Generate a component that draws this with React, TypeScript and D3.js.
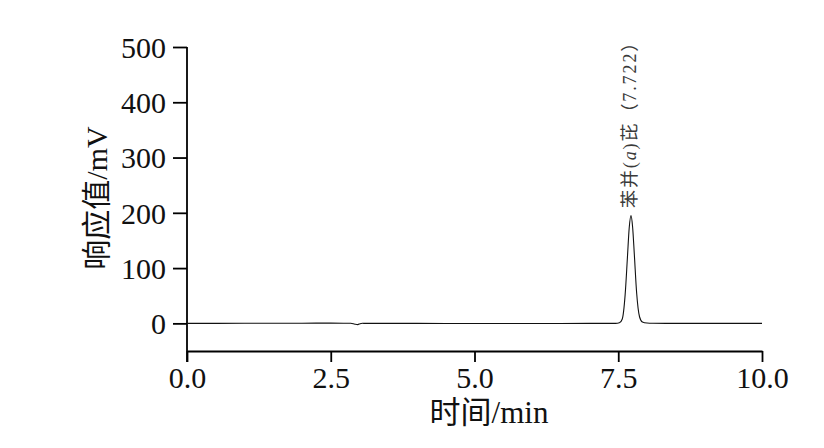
import React, { useEffect, useRef } from "react";
import * as d3 from "d3";

const times = [0, 1.0, 2.0, 2.5, 2.85, 2.92, 2.97, 3.01, 3.05, 3.1, 4.0, 5.0, 6.0, 7.0, 7.45, 7.52, 7.57, 7.62, 7.66, 7.69, 7.722, 7.75, 7.78, 7.82, 7.87, 7.92, 8.0, 8.1, 8.5, 9.0, 10.0];
const response = [0, 0.1, 0.3, 0.4, 0.2, -1.5, -2.2, -0.6, 0.1, 0, -0.1, -0.2, -0.2, -0.1, 0, 1, 8, 52, 120, 172, 195, 174, 124, 55, 12, 2.5, 0.6, 0.2, 0, 0, 0];
const xTicks = [0, 2.5, 5, 7.5, 10];
const yTicks = [0, 100, 200, 300, 400, 500];
const peakTime = 7.722;
const peakLabel = "7.722";

const FONT = "'Liberation Serif', 'Times New Roman', 'Noto Sans CJK SC', serif";

export default function App() {
  const ref = useRef<SVGSVGElement>(null);
  useEffect(() => {
    const svg = d3.select(ref.current);
    svg.selectAll("*").remove();
    const x = d3.scaleLinear().domain([0, 10]).range([187, 762]);
    const y = d3.scaleLinear().domain([-50, 500]).range([351, 47]);

    // y axis
    const gy = svg.append("g").attr("transform", `translate(${x(0)},0)`);
    gy.call(d3.axisLeft(y).tickValues(yTicks).tickSize(14).tickSizeOuter(0).tickFormat(d3.format("d")) as any);
    gy.select(".domain").remove();
    gy.append("line").attr("x1", 0).attr("x2", 0).attr("y1", y(500)).attr("y2", y(-50) + 11).attr("stroke", "#000").attr("stroke-width", 1.8);
    gy.selectAll(".tick line").attr("stroke", "#000").attr("stroke-width", 1.8);
    gy.selectAll(".tick text").attr("font-family", FONT).attr("font-size", 30).attr("fill", "#111").attr("x", -21).attr("dy", "0.34em");

    // x axis
    const gx = svg.append("g").attr("transform", `translate(0,${y(-50)})`);
    gx.call(d3.axisBottom(x).tickValues(xTicks).tickSize(11).tickSizeOuter(0).tickFormat(d3.format(".1f")) as any);
    gx.select(".domain").attr("stroke", "#000").attr("stroke-width", 1.8);
    gx.selectAll(".tick line").attr("stroke", "#000").attr("stroke-width", 1.8);
    gx.selectAll(".tick text").attr("font-family", FONT).attr("font-size", 30).attr("fill", "#111").attr("y", 16);

    // line
    const pts = times.map((t, i) => [t, response[i]] as [number, number]);
    const line = d3.line<[number, number]>().x(d => x(d[0])).y(d => y(d[1])).curve(d3.curveMonotoneX);
    svg.append("path").attr("d", line(pts)).attr("fill", "none").attr("stroke", "#111").attr("stroke-width", 1.1);

    // titles
    svg.append("text").attr("x", 489).attr("y", 423).attr("text-anchor", "middle")
      .attr("font-family", FONT).attr("font-size", 31).attr("fill", "#111").text("时间/min");
    svg.append("text").attr("transform", `translate(107,198) rotate(-90)`).attr("text-anchor", "middle")
      .attr("font-family", FONT).attr("font-size", 30).attr("fill", "#111").text("响应值/mV");

    // peak label
    const lbl = svg.append("text").attr("transform", `translate(${x(peakTime) + 5},208) rotate(-90)`)
      .attr("font-family", FONT).attr("font-size", 18).attr("letter-spacing", 1.9).attr("fill", "#3a3a3a");
    lbl.append("tspan").text("苯并(");
    lbl.append("tspan").attr("font-style", "italic").text("a");
    lbl.append("tspan").text(`)芘（${peakLabel}）`);
  }, []);
  return <svg ref={ref} width={824} height={448} style={{ display: "block", margin: "-8px" }} />;
}
